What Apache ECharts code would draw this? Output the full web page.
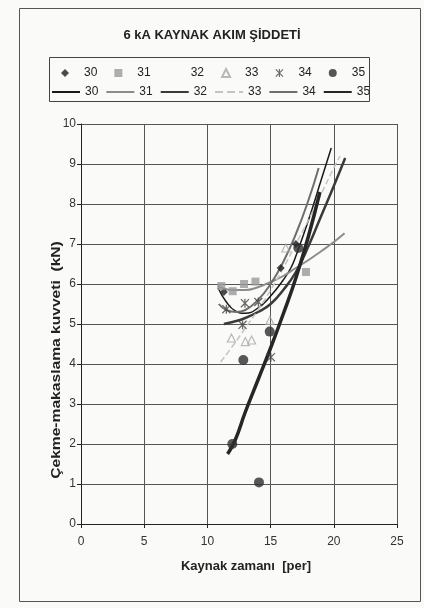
<!DOCTYPE html>
<html>
<head>
<meta charset="utf-8">
<script src="https://cdn.jsdelivr.net/npm/echarts@6/dist/echarts.min.js"></script>
<style>
  html, body { margin: 0; padding: 0; background: #fafaf8; }
  #chart { width: 424px; height: 608px; }
</style>
</head>
<body>
<div id="chart"></div>
<script>
// seri adlari (30..35)
var names = ['30', '31', '32', '33', '34', '35'];

// olcum noktalari [kaynak zamani, kuvvet]
var pts30 = [[11.3, 5.8], [15.8, 6.4], [17.0, 7.0]];
var pts31 = [[11.1, 5.95], [12.0, 5.82], [12.9, 6.0], [13.8, 6.06], [17.8, 6.3]];
var pts32 = [];
var pts33 = [[11.9, 4.65], [13.0, 4.56], [13.5, 4.6], [14.95, 5.09], [16.2, 6.9]];
var pts34 = [[11.5, 5.37], [12.97, 5.52], [14.03, 5.55], [12.78, 4.98], [15.02, 4.17]];
var pts35 = [[11.97, 2.0], [12.84, 4.1], [14.08, 1.04], [14.93, 4.81], [17.2, 6.9]];

// egilim egrileri
var fit30 = [[10.85, 5.9], [11.5, 5.55], [12.2, 5.33], [13, 5.27], [14, 5.4], [15, 5.7], [16, 6.1], [16.6, 6.4], [17, 6.7], [18, 7.6], [19, 8.6], [19.8, 9.4]];
var fit31 = [[10.8, 5.95], [12, 5.85], [13, 5.85], [14, 5.92], [15, 6.05], [16, 6.2], [17, 6.4], [18, 6.6], [19, 6.82], [20, 7.05], [20.85, 7.27]];
var fit32 = [[11.3, 5.0], [12, 5.05], [13, 5.15], [14, 5.3], [15, 5.5], [16, 5.85], [17, 6.3], [18, 6.95], [19, 7.7], [20, 8.45], [20.9, 9.15]];
var fit33 = [[11.05, 4.05], [12, 4.45], [13, 4.9], [14, 5.35], [15, 5.85], [16, 6.4], [17, 7.0], [18, 7.6], [19, 8.25], [20, 8.9], [20.5, 9.2]];
var fit34 = [[10.9, 5.5], [11.5, 5.35], [12.3, 5.3], [13, 5.35], [14, 5.6], [15, 6.0], [16, 6.55], [17, 7.25], [18, 8.1], [18.8, 8.9]];
var fit35 = [[11.6, 1.75], [12.2, 2.1], [13, 2.8], [14, 3.6], [15, 4.4], [16, 5.25], [17, 6.15], [18, 7.2], [18.9, 8.3]];

var xTicks = [0, 25, 5];   // min, max, aralik
var yTicks = [0, 10, 1];

var FONT = '"Liberation Sans", Arial, sans-serif';
var star = 'path://M4.3,0H5.7V10H4.3Z M0,1L1,0L10,9L9,10Z M9,0L10,1L1,10L0,9Z';

var myChart = echarts.init(document.getElementById('chart'));

var pts = [pts30, pts31, pts32, pts33, pts34, pts35];
var fits = [fit30, fit31, fit32, fit33, fit34, fit35];
var markers = ['diamond', 'rect', 'circle', 'triangle', star, 'circle'];
var mSize = [8, 8, 7, 8, 9, 10];
var mColor = ['#1e1e1e', '#9a9a9a', 'rgba(0,0,0,0)', 'rgba(0,0,0,0)', '#444', '#2e2e2e'];
var lColor = ['#1a1a1a', '#8c8c8c', '#3a3a3a', '#c4c4c4', '#6e6e6e', '#262626'];
var lWidth = [1.5, 2, 2.5, 1.5, 2, 3.5];

var series = [];
names.forEach(function (n, i) {
    series.push({
        name: 's' + n,
        type: 'scatter',
        data: pts[i],
        symbol: markers[i],
        symbolSize: mSize[i],
        itemStyle: i === 3
            ? { color: 'rgba(0,0,0,0)', borderColor: '#a8a8a8', borderWidth: 1.2 }
            : { color: mColor[i] },
        z: 3
    });
});
names.forEach(function (n, i) {
    series.push({
        name: 'l' + n,
        type: 'line',
        data: fits[i],
        smooth: true,
        symbol: 'none',
        color: lColor[i],
        lineStyle: { color: lColor[i], width: lWidth[i], type: i === 3 ? 'dashed' : 'solid' },
        z: 2
    });
});

var legendText = { color: '#222', fontSize: 12, fontFamily: FONT };

myChart.setOption({
    backgroundColor: '#fafaf8',
    animation: false,
    title: {
        text: '6 kA KAYNAK AKIM ŞİDDETİ',
        left: 'center',
        top: 29,
        padding: 0,
        textStyle: { fontSize: 13, fontWeight: 'bold', color: '#222', fontFamily: FONT }
    },
    legend: [
        {
            // sadece isaretler
            left: 61, top: 67, padding: 0,
            itemWidth: 8, itemHeight: 8, itemGap: 17,
            selectedMode: false,
            formatter: function (name) { return name.slice(1); },
            textStyle: Object.assign({ padding: [0, 0, 0, 10] }, legendText),
            data: names.map(function (n, i) { return { name: 's' + n, icon: markers[i] }; })
        },
        {
            // sadece cizgiler
            left: 51, top: 86, padding: 0,
            itemWidth: 28, itemHeight: 12, itemGap: 7,
            selectedMode: false,
            itemStyle: { opacity: 0 },
            formatter: function (name) { return name.slice(1); },
            textStyle: legendText,
            data: names.map(function (n) { return 'l' + n; })
        }
    ],
    grid: { left: 81, right: 27, top: 124, bottom: 84 },
    xAxis: {
        type: 'value',
        min: xTicks[0], max: xTicks[1], interval: xTicks[2],
        name: 'Kaynak zamanı  [per]',
        nameLocation: 'middle',
        nameGap: 36,
        nameTextStyle: { fontSize: 13, fontWeight: 'bold', color: '#222', fontFamily: FONT, padding: [0, 0, 0, 14] },
        axisLine: { lineStyle: { color: '#222', width: 1 } },
        axisTick: { show: true, length: 4, lineStyle: { color: '#222' } },
        axisLabel: { color: '#333', fontSize: 12, fontFamily: FONT, margin: 12 },
        splitLine: { show: true, lineStyle: { color: '#555', width: 1 } }
    },
    yAxis: {
        type: 'value',
        min: yTicks[0], max: yTicks[1], interval: yTicks[2],
        axisLine: { show: true, lineStyle: { color: '#222', width: 1 } },
        axisTick: { show: true, length: 4, lineStyle: { color: '#222' } },
        axisLabel: { color: '#333', fontSize: 12, fontFamily: FONT, margin: 5 },
        splitLine: { show: true, lineStyle: { color: '#555', width: 1 } }
    },
    graphic: [
        {
            type: 'rect', silent: true, z: -1,
            shape: { x: 19.5, y: 8.5, width: 401, height: 593 },
            style: { fill: 'none', stroke: '#555', lineWidth: 1 }
        },
        {
            type: 'rect', silent: true, z: -1,
            shape: { x: 49.5, y: 57.5, width: 320, height: 44 },
            style: { fill: 'none', stroke: '#444', lineWidth: 1 }
        },
        {
            type: 'text', silent: true,
            x: 56, y: 360, rotation: Math.PI / 2, scaleX: 1.2,
            style: {
                text: 'Çekme-makaslama kuvveti  (kN)',
                font: 'bold 13px ' + FONT,
                fill: '#222',
                textAlign: 'center',
                textVerticalAlign: 'middle'
            }
        }
    ],
    series: series
});
</script>
</body>
</html>
